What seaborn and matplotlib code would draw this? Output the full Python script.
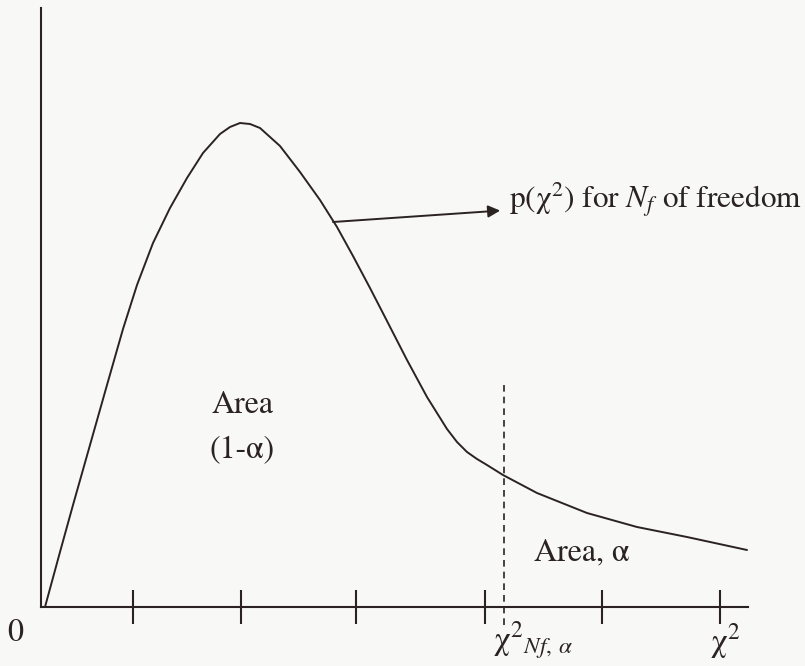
import numpy as np
import pandas as pd
import matplotlib
matplotlib.use("Agg")
import matplotlib.pyplot as plt
import seaborn as sns

# Sketch of a chi-square density p(chi^2) with the critical value marked
chi_x = [0.04, 0.19, 0.32, 0.49, 0.66, 0.82, 0.96, 1.12, 1.29, 1.46, 1.62,
         1.79, 1.89, 1.99, 2.09, 2.19, 2.39, 2.59, 2.79, 2.96, 3.12, 3.29,
         3.46, 3.66, 3.86, 4.06, 4.16, 4.26, 4.36, 4.46, 4.62, 4.96, 5.46,
         5.96, 6.46, 7.06]
density = [0.00, 0.55, 1.02, 1.62, 2.22, 2.78, 3.22, 3.64, 3.99, 4.29, 4.54,
           4.73, 4.80, 4.84, 4.83, 4.79, 4.61, 4.35, 4.07, 3.80, 3.51, 3.19,
           2.86, 2.47, 2.10, 1.78, 1.65, 1.55, 1.48, 1.42, 1.32, 1.14, 0.94,
           0.80, 0.70, 0.57]
tick_positions = [0.92, 2.00, 3.15, 4.44, 5.61, 6.79]
critical_x = 4.63

sns.set_theme(style="white")
plt.rcParams["font.family"] = ["STIXGeneral", "Liberation Serif", "DejaVu Serif"]
plt.rcParams["mathtext.fontset"] = "stix"

ink = "#2a2322"
bg = "#f8f8f6"

fig = plt.figure(figsize=(8.05, 6.66), dpi=100, facecolor=bg)
ax = fig.add_axes([41 / 805, 59 / 666, 707 / 805, 599 / 666])
ax.set_facecolor(bg)

df = pd.DataFrame({"chi2": chi_x, "p": density})
sns.lineplot(data=df, x="chi2", y="p", ax=ax, color=ink, lw=1.4, sort=False,
             solid_joinstyle="round", solid_capstyle="round")

ax.set_xlim(0, 7.07)
ax.set_ylim(0, 5.99)
for side in ("top", "right"):
    ax.spines[side].set_visible(False)
for side in ("left", "bottom"):
    ax.spines[side].set_color(ink)
    ax.spines[side].set_linewidth(1.5)

ax.set_xticks(tick_positions)
ax.set_xticklabels([])
ax.set_yticks([])
ax.tick_params(axis="x", direction="inout", length=24, width=1.5,
               color=ink, bottom=True)
ax.set_xlabel("")
ax.set_ylabel("")

# critical value marker
ax.plot([critical_x, critical_x], [2.22, -0.2], ls=(0, (4, 3)), lw=1.2,
        color=ink, clip_on=False)

fs = 23
ax.text(2.01, 2.02, "Area", ha="center", va="center", fontsize=fs, color=ink)
ax.text(2.01, 1.57, "(1-α)", ha="center", va="center", fontsize=fs,
        color=ink)
ax.text(4.93, 0.54, "Area, α", ha="left", va="center", fontsize=fs,
        color=ink)
ax.text(-0.26, -0.26, "0", ha="center", va="center", fontsize=fs, color=ink,
        clip_on=False)
ax.text(6.84, -0.34, r"χ$^2$", ha="center", va="center", fontsize=24,
        color=ink, clip_on=False)
ax.text(4.52, -0.34, r"χ$^{2}{}_{Nf,\,\alpha}$", ha="left", va="center",
        fontsize=24, color=ink, clip_on=False)

ax.annotate(r"p(χ$^2$) for $N_f$ of freedom", xy=(2.92, 3.85),
            xytext=(4.68, 4.07), ha="left", va="center", fontsize=22.5,
            color=ink, annotation_clip=False,
            arrowprops=dict(arrowstyle="<|-", color=ink, lw=1.4,
                            mutation_scale=18, shrinkA=4, shrinkB=0))

fig.savefig("out.png", dpi=100, facecolor=bg)
